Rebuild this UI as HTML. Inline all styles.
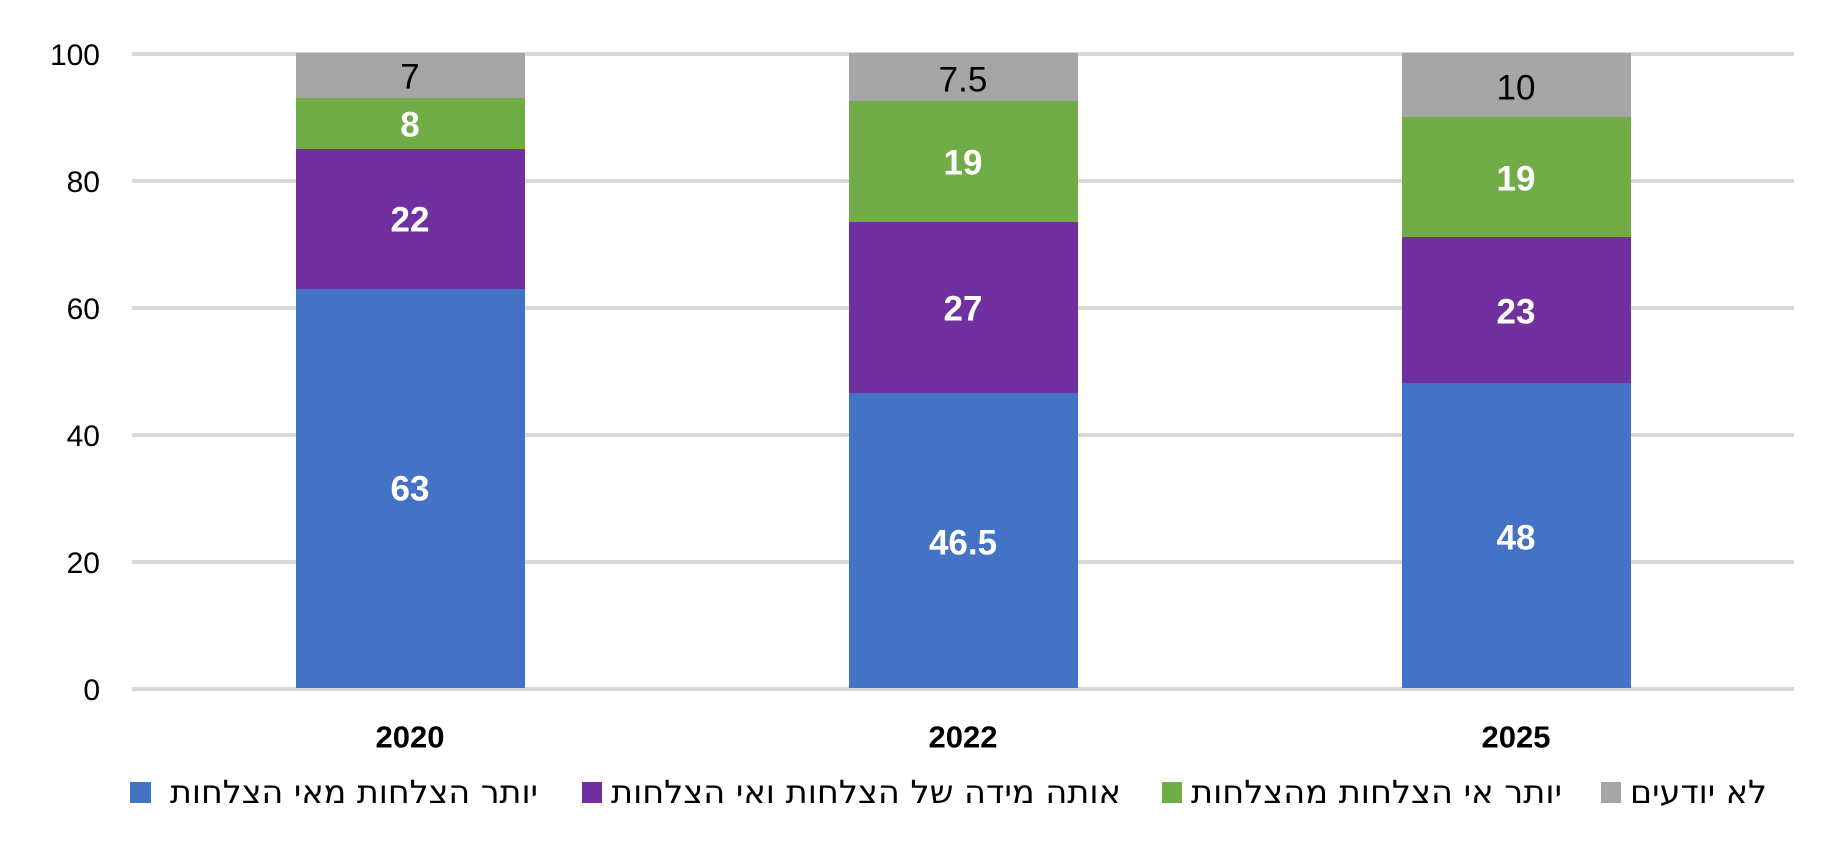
<!DOCTYPE html>
<html><head><meta charset="utf-8"><style>body{margin:0;background:#fff}svg{display:block}</style></head><body>
<svg width="1835" height="844" xmlns="http://www.w3.org/2000/svg" font-family="Liberation Sans, DejaVu Sans, sans-serif">
<g stroke="#D9D9D9" stroke-width="4">
<line x1="132" x2="1794" y1="54" y2="54"/>
<line x1="132" x2="1794" y1="181" y2="181"/>
<line x1="132" x2="1794" y1="308" y2="308"/>
<line x1="132" x2="1794" y1="435" y2="435"/>
<line x1="132" x2="1794" y1="562" y2="562"/>
<line x1="132" x2="1794" y1="689" y2="689"/>
</g>
<g font-size="30" fill="#000" text-anchor="end">
<text x="100" y="65">100</text><text x="100" y="192">80</text><text x="100" y="319">60</text>
<text x="100" y="446">40</text><text x="100" y="573">20</text><text x="100" y="700">0</text>
</g>
<rect x="296" y="289" width="229" height="399" fill="#4472C4"/>
<rect x="296" y="149" width="229" height="140" fill="#7030A0"/>
<rect x="296" y="98" width="229" height="51" fill="#70AD47"/>
<rect x="296" y="53" width="229" height="45" fill="#A5A5A5"/>
<rect x="849" y="393" width="229" height="295" fill="#4472C4"/>
<rect x="849" y="222" width="229" height="171" fill="#7030A0"/>
<rect x="849" y="101" width="229" height="121" fill="#70AD47"/>
<rect x="849" y="53" width="229" height="48" fill="#A5A5A5"/>
<rect x="1402" y="383" width="229" height="305" fill="#4472C4"/>
<rect x="1402" y="237" width="229" height="146" fill="#7030A0"/>
<rect x="1402" y="117" width="229" height="120" fill="#70AD47"/>
<rect x="1402" y="53" width="229" height="64" fill="#A5A5A5"/>
<g font-size="35" text-anchor="middle" dominant-baseline="central">
<text x="410" y="77" fill="#000">7</text>
<text x="963" y="80" fill="#000">7.5</text>
<text x="1516" y="88" fill="#000">10</text>
<g fill="#fff" font-weight="bold">
<text x="410" y="125">8</text><text x="410" y="220">22</text><text x="410" y="489">63</text>
<text x="963" y="163">19</text><text x="963" y="309">27</text><text x="963" y="543">46.5</text>
<text x="1516" y="179">19</text><text x="1516" y="312">23</text><text x="1516" y="538">48</text>
</g>
<g fill="#000" font-weight="bold" font-size="31">
<text x="410" y="737">2020</text><text x="963" y="737">2022</text><text x="1516" y="737">2025</text>
</g>
</g>
<rect x="130" y="782" width="21" height="21" fill="#4472C4"/>
<rect x="582" y="782" width="20" height="21" fill="#7030A0"/>
<rect x="1162" y="782" width="20" height="21" fill="#70AD47"/>
<rect x="1601" y="782" width="20" height="21" fill="#A5A5A5"/>
<g font-size="32" fill="#000" dominant-baseline="central" font-family="DejaVu Sans, Liberation Sans, sans-serif">
<text x="170" y="792" textLength="368" lengthAdjust="spacingAndGlyphs">יותר הצלחות מאי הצלחות</text>
<text x="611" y="792" textLength="510" lengthAdjust="spacingAndGlyphs">אותה מידה של הצלחות ואי הצלחות</text>
<text x="1191" y="792" textLength="371" lengthAdjust="spacingAndGlyphs">יותר אי הצלחות מהצלחות</text>
<text x="1630" y="792" textLength="137" lengthAdjust="spacingAndGlyphs">לא יודעים</text>
</g>
</svg>
</body></html>
